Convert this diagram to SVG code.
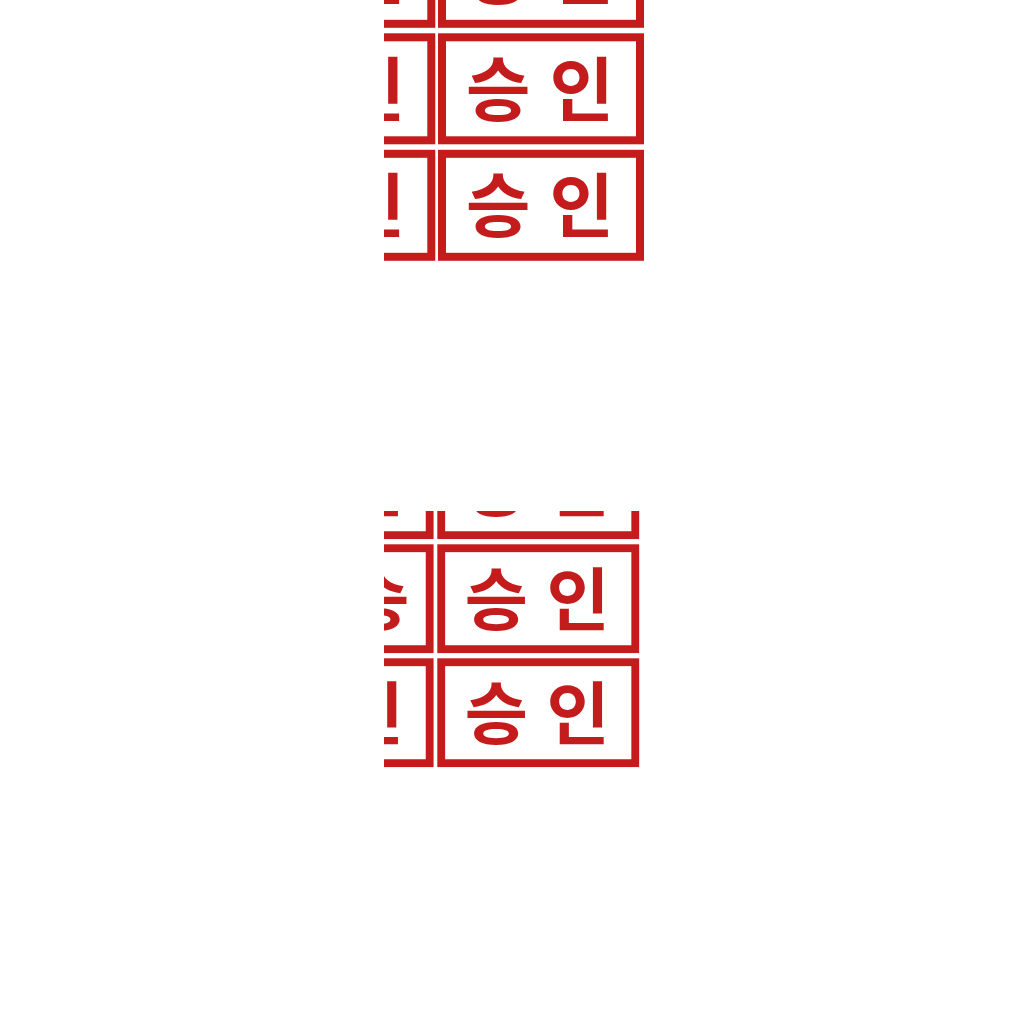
<svg xmlns="http://www.w3.org/2000/svg" xmlns:xlink="http://www.w3.org/1999/xlink" width="1024" height="1024" viewBox="0 0 1024 1024">
  <style>
    .frame { fill: #ffffff; stroke: #C41C1C; stroke-width: 8; }
    .stxt { font-family: "Noto Sans CJK KR", "Noto Sans", sans-serif; font-weight: 700; font-size: 70px; fill: #C41C1C; letter-spacing: 19px; }
  </style>
  <defs>
    <g id="frame">
      <rect class="frame" x="4" y="4" width="198" height="103"/>
    </g>
    <g id="stamp">
      <use xlink:href="#frame" href="#frame"/>
      <text class="stxt" x="28" y="82.5">승인</text>
    </g>
    <clipPath id="clipTop">
      <rect x="384" y="0" width="262" height="261"/>
    </clipPath>
    <clipPath id="clipBottom">
      <rect x="384" y="511" width="256" height="257"/>
    </clipPath>
  </defs>
  <rect width="1024" height="1024" fill="#ffffff"/>

  <g id="block-top" clip-path="url(#clipTop)">
    <use href="#stamp" xlink:href="#stamp" transform="translate(229.3,-83.2)"/>
    <use href="#stamp" xlink:href="#stamp" transform="translate(438,-83.2)"/>
    <use href="#stamp" xlink:href="#stamp" transform="translate(229.3,33.3)"/>
    <use href="#stamp" xlink:href="#stamp" transform="translate(438,33.3)"/>
    <use href="#stamp" xlink:href="#stamp" transform="translate(229.3,149.8)"/>
    <use href="#stamp" xlink:href="#stamp" transform="translate(438,149.8)"/>
  </g>

  <g id="block-bottom" clip-path="url(#clipBottom)">
    <use href="#stamp" xlink:href="#stamp" transform="translate(231.7,430.3) scale(0.98)"/>
    <use href="#stamp" xlink:href="#stamp" transform="translate(437.3,430.3) scale(0.98)"/>
    <g transform="translate(231.7,544.3) scale(0.98)">
      <use href="#frame" xlink:href="#frame"/>
      <text class="stxt" x="117" y="82.5">승</text>
    </g>
    <use href="#stamp" xlink:href="#stamp" transform="translate(437.3,544.3) scale(0.98)"/>
    <use href="#stamp" xlink:href="#stamp" transform="translate(231.7,658.3) scale(0.98)"/>
    <use href="#stamp" xlink:href="#stamp" transform="translate(437.3,658.3) scale(0.98)"/>
  </g>
</svg>
